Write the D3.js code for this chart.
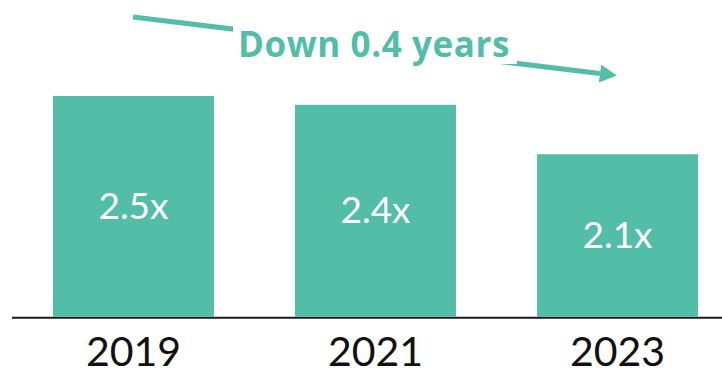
<!DOCTYPE html>
<html>
<head>
<meta charset="utf-8">
<script src="https://cdn.jsdelivr.net/npm/d3@7"></script>
<style>
  html, body { margin: 0; padding: 0; background: #fff; }
  svg { display: block; }
</style>
</head>
<body>
<svg id="chart" width="722" height="368"></svg>
<script>
// Data
const categories = ["2019", "2021", "2023"];
const barValues = [2.5, 2.4, 1.84];          // bar heights as drawn
const barLabels = ["2.5x", "2.4x", "2.1x"];  // labels printed in bars
const annotation = "Down 0.4 years";

const teal = "#52bea7";
const svg = d3.select("#chart");

const x = d3.scaleBand()
  .domain(categories)
  .range([53, 698])
  .paddingInner(0.335)
  .paddingOuter(0);

const y = d3.scaleLinear()
  .domain([0, 2.5])
  .range([316.5, 96]);

// Bars
svg.append("g").selectAll("rect")
  .data(categories)
  .join("rect")
  .attr("x", d => x(d))
  .attr("y", (d, i) => y(barValues[i]))
  .attr("width", x.bandwidth())
  .attr("height", (d, i) => y(0) - y(barValues[i]))
  .attr("fill", teal);

// Bar labels
svg.append("g").selectAll("text")
  .data(categories)
  .join("text")
  .attr("x", d => x(d) + x.bandwidth() / 2)
  .attr("y", (d, i) => (y(barValues[i]) + y(0)) / 2)
  .attr("dy", "0.34em")
  .attr("text-anchor", "middle")
  .attr("fill", "#fff")
  .style("font-family", "Lato, 'Open Sans', sans-serif")
  .style("font-size", "37px")
  .style("font-weight", 400)
  .text((d, i) => barLabels[i]);

// X axis
const xAxis = d3.axisBottom(x).tickSize(0).tickPadding(0);
const gx = svg.append("g")
  .attr("transform", `translate(0,${y(0) + 1.2})`)
  .call(xAxis);
gx.select(".domain").remove();
gx.append("line")
  .attr("x1", 12).attr("x2", 722)
  .attr("y1", 0).attr("y2", 0)
  .attr("stroke", "#1a1a1a")
  .attr("stroke-width", 2);
gx.selectAll(".tick text")
  .attr("y", 48)
  .attr("dy", 0)
  .attr("fill", "#111")
  .style("font-family", "Lato, 'Open Sans', sans-serif")
  .style("font-size", "41px")
  .style("font-weight", 400);

// Annotation arrow
const defs = svg.append("defs");
defs.append("marker")
  .attr("id", "arrow")
  .attr("markerUnits", "userSpaceOnUse")
  .attr("viewBox", "0 -9 17 18")
  .attr("refX", 0).attr("refY", 0)
  .attr("markerWidth", 17).attr("markerHeight", 18)
  .attr("orient", "auto")
  .append("path")
  .attr("d", "M0,-9L17,0L0,9Z")
  .attr("fill", teal);

svg.append("line")
  .attr("x1", 133).attr("y1", 17)
  .attr("x2", 600).attr("y2", 73.5)
  .attr("stroke", teal)
  .attr("stroke-width", 5)
  .attr("marker-end", "url(#arrow)");

svg.append("rect")
  .attr("x", 233).attr("y", 24)
  .attr("width", 284).attr("height", 40)
  .attr("fill", "#fff");

svg.append("text")
  .attr("x", 374)
  .attr("y", 57)
  .attr("text-anchor", "middle")
  .attr("fill", teal)
  .style("font-family", "'Open Sans', Lato, sans-serif")
  .style("font-size", "35px")
  .style("font-weight", 700)
  .style("letter-spacing", "0.6px")
  .text(annotation);
</script>
</body>
</html>
